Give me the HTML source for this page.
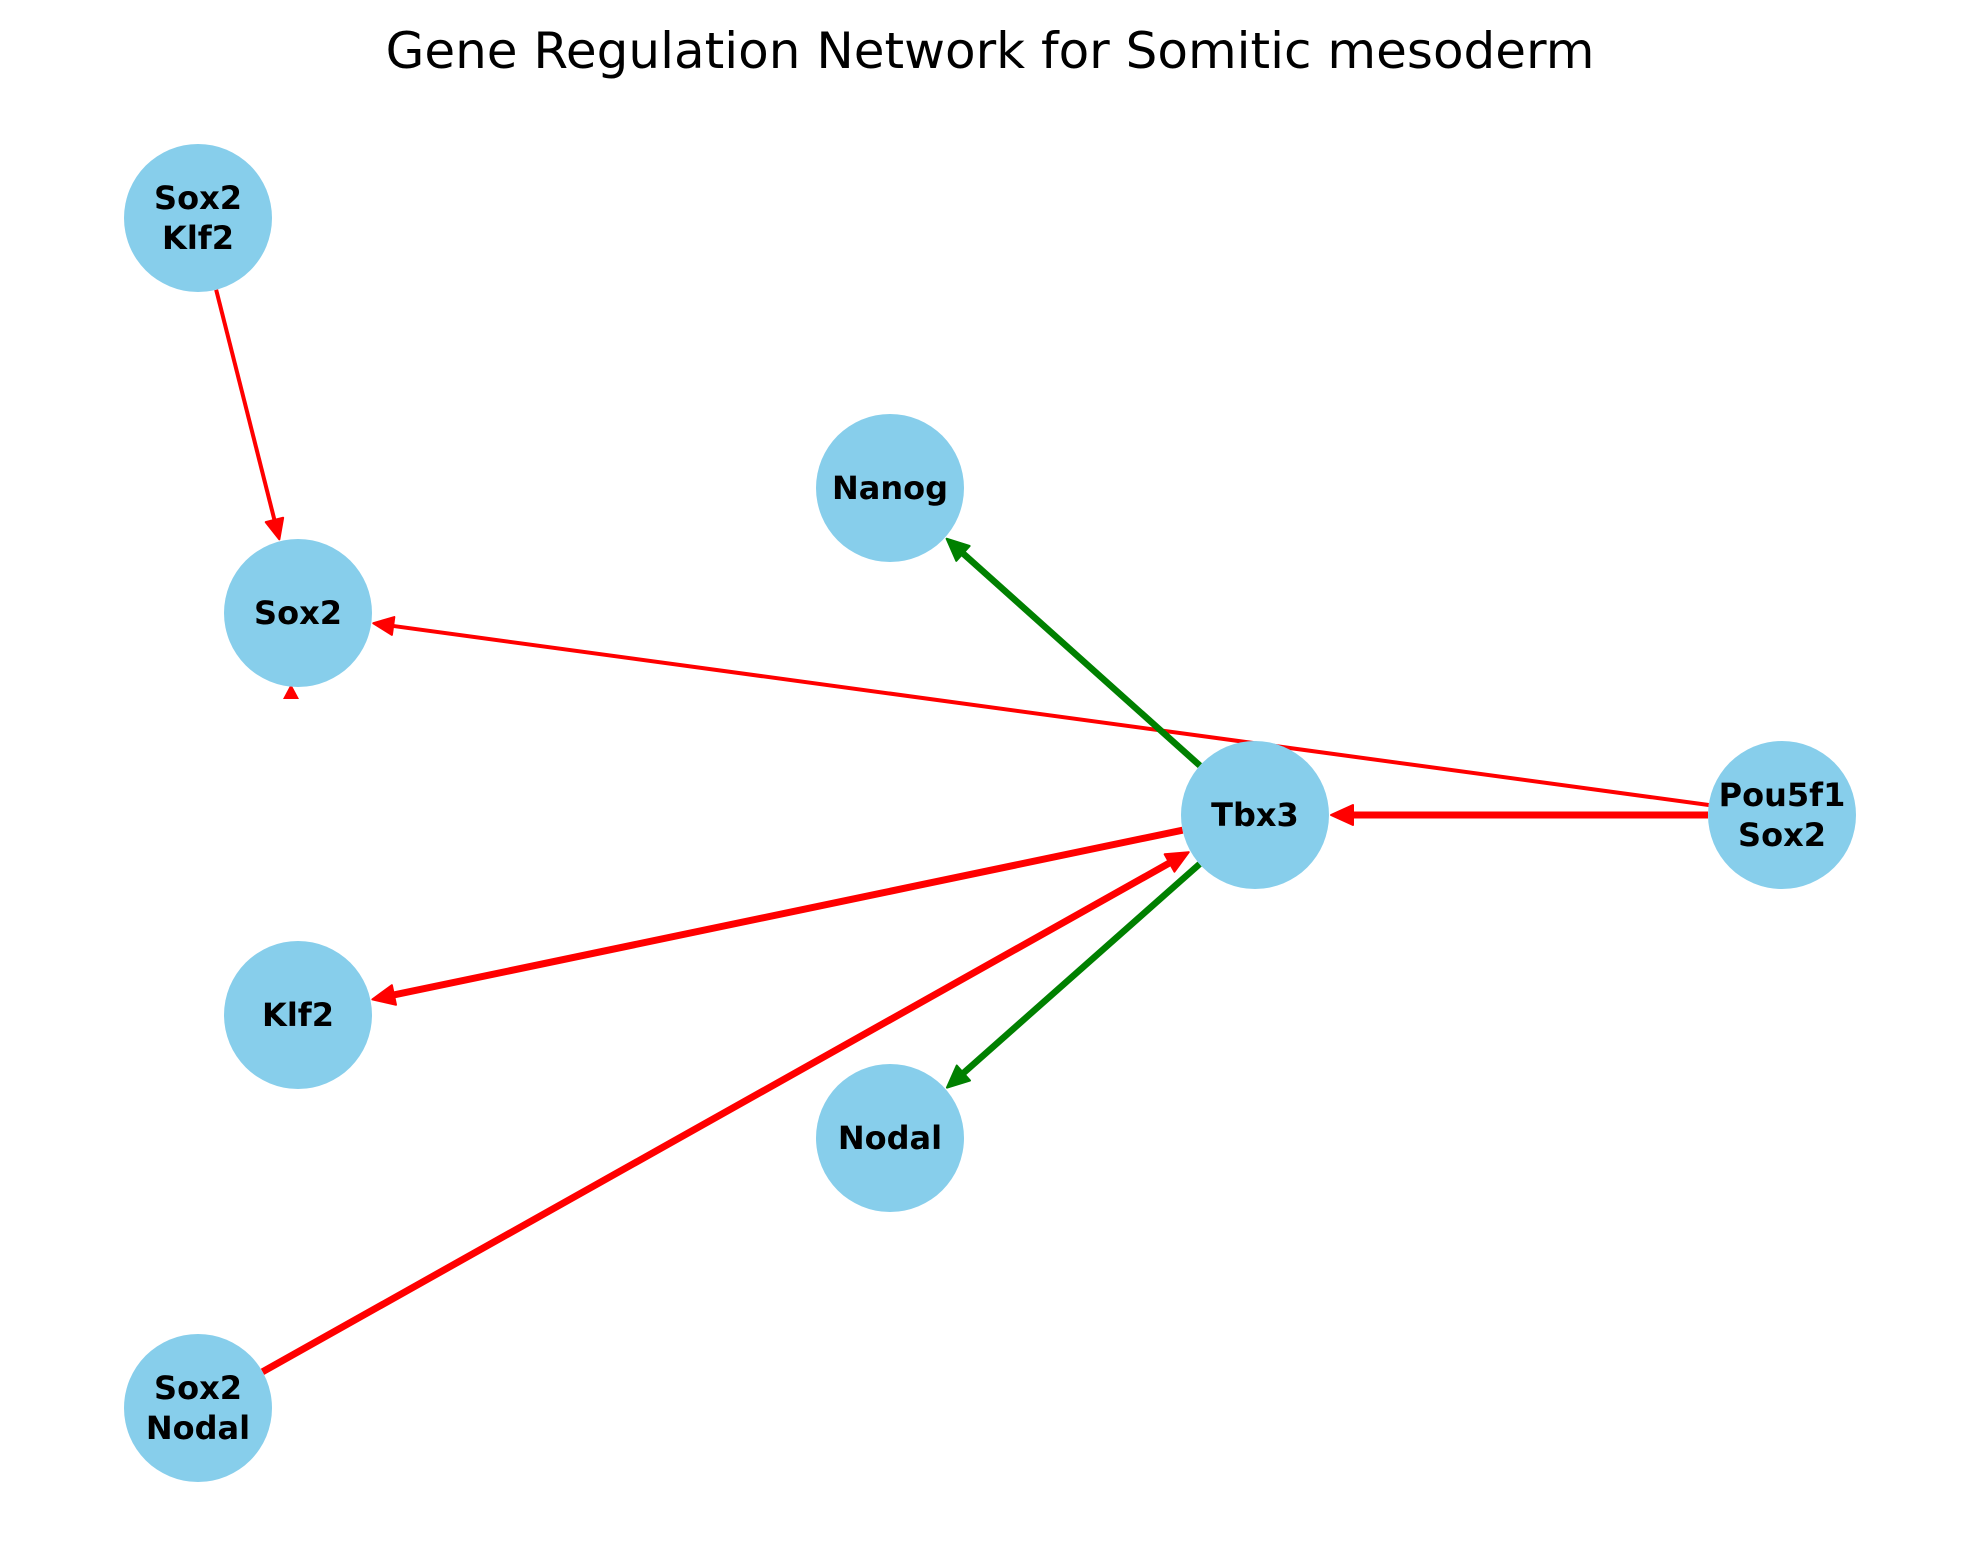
<!DOCTYPE html>
<html><head><meta charset="utf-8"><style>
html,body{margin:0;padding:0;background:#fff;}
svg{display:block;}
text{font-family:"DejaVu Sans","Liberation Sans",sans-serif;}
</style></head><body>
<svg id="s" width="1980" height="1563" viewBox="0 0 1980 1563" xmlns="http://www.w3.org/2000/svg">
<text x="990" y="68" font-size="50" text-anchor="middle" fill="#000">Gene Regulation Network for Somitic mesoderm</text>
<g id="edges"></g>
<polygon points="291,684 283,699 299,699" fill="#f00"/>
<g id="nodes"></g>
</svg>
<script>
var N={
 sk:[198,218,["Sox2","Klf2"]],
 s:[298,613,["Sox2"]],
 na:[890,488,["Nanog"]],
 t:[1255,815,["Tbx3"]],
 p:[1782,815,["Pou5f1","Sox2"]],
 k:[298,1015,["Klf2"]],
 no:[890,1138,["Nodal"]],
 sn:[198,1408,["Sox2","Nodal"]]
};
var R=74,ns="http://www.w3.org/2000/svg";
var E=[["sk","s","#f00",4],["p","s","#f00",4],["p","t","#f00",7],["t","k","#f00",7],["sn","t","#f00",7],["t","na","#008000",6.5],["t","no","#008000",6.5]];
var eg=document.getElementById("edges"),ng=document.getElementById("nodes");
function el(n,a,p){var e=document.createElementNS(ns,n);for(var k in a)e.setAttribute(k,a[k]);p.appendChild(e);return e;}
E.forEach(function(e){
 var a=N[e[0]],b=N[e[1]];var dx=b[0]-a[0],dy=b[1]-a[1],L=Math.hypot(dx,dy),ux=dx/L,uy=dy/L;
 var x1=a[0]+ux*R,y1=a[1]+uy*R,x2=b[0]-ux*(R+2),y2=b[1]-uy*(R+2);
 var hl=e[3]>5?22:20,hw=e[3]>5?10:9;
 var bx=x2-ux*hl,by=y2-uy*hl;
 el("line",{x1:x1,y1:y1,x2:bx+ux*2,y2:by+uy*2,stroke:e[2],"stroke-width":e[3]},eg);
 el("polygon",{points:x2+","+y2+" "+(bx-uy*hw)+","+(by+ux*hw)+" "+(bx+uy*hw)+","+(by-ux*hw),fill:e[2],stroke:e[2],"stroke-width":2,"stroke-linejoin":"round"},eg);
});
for(var k in N){var n=N[k];
 el("circle",{cx:n[0],cy:n[1],r:R,fill:"#87ceeb"},ng);
 var l=n[2];
 l.forEach(function(t,i){var y=n[1]+11+(i-(l.length-1)/2)*40;
  var tx=el("text",{x:n[0],y:y,"font-size":32,"font-weight":"bold","text-anchor":"middle",fill:"#000"},ng);tx.textContent=t;});
}
</script>
</body></html>
